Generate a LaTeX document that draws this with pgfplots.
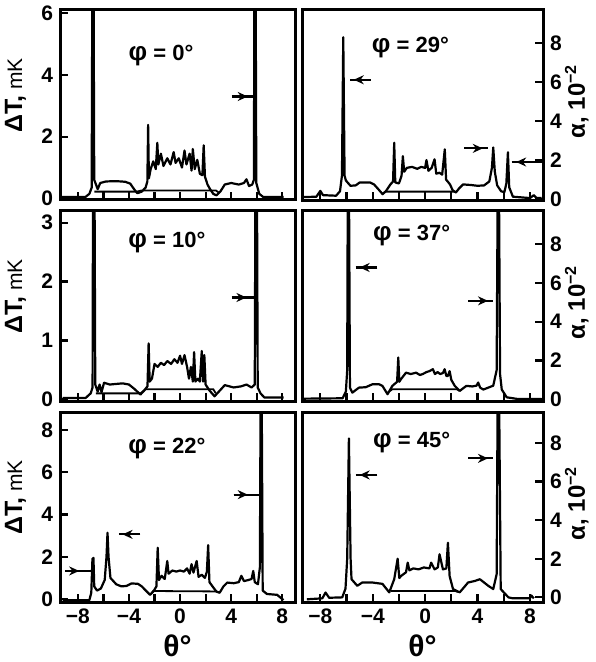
\documentclass[border=0pt]{standalone}
\usepackage{pgfplots}
\pgfplotsset{compat=1.18}
\usepackage{fontspec}
\setmainfont{Liberation Sans}
\usetikzlibrary{arrows.meta}

% arrow with head inside the line: right-pointing {x1}{xhead}{x2}{y}
\newcommand{\rarr}[4]{\draw[line width=1.1pt] (axis cs:#1,#4) -- (axis cs:#3,#4);
  \draw[line width=1.1pt,-{Stealth[length=5pt,width=4.5pt]}] (axis cs:#1,#4) -- (axis cs:#2,#4);}
\newcommand{\larr}[4]{\draw[line width=1.1pt] (axis cs:#1,#4) -- (axis cs:#3,#4);
  \draw[line width=1.1pt,-{Stealth[length=5pt,width=4.5pt]}] (axis cs:#3,#4) -- (axis cs:#2,#4);}

\tikzset{ttl/.style={font=\bfseries\fontsize{11}{12}\selectfont, anchor=center}}
\newcommand{\phig}{{\fontsize{13}{13}\selectfont φ}}

\pgfplotsset{
  panel/.style={scale only axis, height=95pt, xmin=-9.4, xmax=9,
    axis line style={line width=1.5pt},
    xtick={-8,-4,0,4,8}, minor xtick={-6,-2,2,6}, xticklabels={},
    xtick pos=left,
    tick style={black, line width=1.1pt}, major tick length=4pt, minor tick length=4pt,
    tick label style={font=\bfseries\fontsize{10.5}{12}\selectfont},
    /pgf/number format/assume math mode=true},
  lp/.style={panel, width=117.5pt, ytick pos=left,
    ylabel={{\bfseries\fontsize{12.5}{14}\selectfont ΔT,} {\fontsize{10.5}{12}\selectfont mK}},
    ylabel style={at={(axis description cs:-0.19,0.55)}, anchor=center}},
  rp/.style={panel, width=120.5pt, ytick pos=right, yticklabel pos=right,
    ytick={0,2,4,6,8}, ymax=9.7,
    ylabel={\bfseries\fontsize{12}{13}\selectfont α, 10\textsuperscript{−2}},
    ylabel style={at={(axis description cs:1.14,0.52)}, anchor=center}},
  bot/.style={xticklabels={−8,−4,0,4,8},
    xlabel={\bfseries\fontsize{15}{16}\selectfont θ°},
    xlabel style={at={(axis description cs:0.5,0)}, anchor=center, yshift=-22pt}},
  curve/.style={black, line width=1.1pt, line join=round, no marks},
  low/.style={black, line width=0.9pt, no marks},
}

\begin{document}
\begin{tikzpicture}
\path[use as bounding box] (0,0) rectangle (297.5pt,-331pt);

% ---- phi = 0
\begin{axis}[lp, at={(30pt,-5pt)}, anchor=north west, ymin=-0.05, ymax=6.1, ytick={0,2,4,6}]
\addplot[curve] coordinates {(-9.3,0.05) (-7.4,0.05) (-7.1,0.15) (-6.92,0.35) (-6.86,8) (-6.78,8) (-6.72,0.6) (-6.6,0.47) (-6.45,0.3) (-6.25,0.5) (-5.8,0.55) (-5.0,0.56) (-4.3,0.54) (-3.9,0.48) (-3.6,0.3) (-3.35,0.17) (-3.0,0.22) (-2.7,0.35) (-2.56,0.55) (-2.5,2.38) (-2.44,0.65) (-2.3,0.95) (-2.1,1.2) (-1.9,0.95) (-1.78,1.8) (-1.7,1.1) (-1.5,1.45) (-1.3,1.05) (-1.0,1.3) (-0.75,1.1) (-0.5,1.5) (-0.35,1.15) (-0.1,1.3) (0.15,1.0) (0.35,1.55) (0.5,1.1) (0.75,1.45) (0.9,0.9) (1.0,1.6) (1.15,0.95) (1.35,1.25) (1.55,0.8) (1.75,0.75) (1.85,1.72) (1.95,0.7) (2.15,0.45) (2.35,0.3) (2.6,0.15) (2.85,0.1) (3.15,0.22) (3.5,0.45) (4.0,0.5) (4.6,0.45) (5.0,0.5) (5.2,0.62) (5.4,0.4) (5.65,0.45) (5.78,0.6) (5.83,8) (5.91,8) (5.97,0.5) (6.2,0.15) (6.5,0.05) (8.1,0.05)};
\addplot[low] coordinates {(-6.7,0.22) (-3.4,0.22) (-3.0,0.26) (2.8,0.26) (3.0,0.2)};
\rarr{4.05}{5.3}{5.83}{3.3}
\node[ttl] at (rel axis cs:0.43,0.76) {\phig\ = 0°};
\end{axis}

% ---- phi = 29
\begin{axis}[rp, at={(151pt,-5pt)}, anchor=north west, ymin=-0.05]
\addplot[curve] coordinates {(-9.3,0.1) (-8.3,0.12) (-8.0,0.42) (-7.8,0.2) (-6.8,0.17) (-6.5,0.4) (-6.35,1.2) (-6.25,8.3) (-6.15,1.2) (-6.05,0.95) (-5.7,0.68) (-5.3,0.7) (-5.0,0.85) (-4.2,0.85) (-3.9,0.75) (-3.5,0.45) (-3.25,0.25) (-3.0,0.4) (-2.65,0.75) (-2.45,0.9) (-2.36,2.89) (-2.28,0.85) (-2.0,0.8) (-1.8,1.2) (-1.7,2.2) (-1.6,1.4) (-1.4,1.6) (-1.0,1.65) (-0.6,1.55) (-0.3,1.65) (0.0,1.6) (0.1,2.0) (0.25,1.45) (0.5,1.6) (0.72,2.04) (0.85,1.3) (1.1,1.35) (1.3,1.25) (1.5,2.55) (1.6,1.0) (1.9,0.75) (2.1,0.45) (2.35,0.34) (2.6,0.55) (2.9,0.75) (3.5,0.72) (4.0,0.68) (4.5,0.7) (4.9,0.9) (5.1,1.6) (5.2,2.65) (5.32,1.4) (5.5,0.7) (5.8,0.4) (6.05,0.35) (6.2,0.8) (6.32,2.4) (6.42,0.6) (6.7,0.12) (8.0,0.05) (8.3,0.2) (8.5,0.05) (8.9,0.05)};
\addplot[low] coordinates {(-3.25,0.28) (-3.0,0.38) (2.2,0.38) (2.4,0.34)};
\larr{-5.7}{-5.45}{-4.15}{6.12}
\rarr{3.0}{4.4}{4.8}{2.6}
\larr{6.6}{6.95}{9.0}{1.9}
\node[ttl] at (rel axis cs:0.45,0.8) {\phig\ = 29°};
\end{axis}

% ---- phi = 10
\begin{axis}[lp, at={(30pt,-105.5pt)}, anchor=north west, ymin=-0.03, ymax=3.2, ytick={0,1,2,3}]
\addplot[curve] coordinates {(-9.2,0.02) (-7.4,0.02) (-7.0,0.1) (-6.85,0.2) (-6.8,5) (-6.72,5) (-6.64,0.25) (-6.45,0.13) (-6.3,0.25) (-6.15,0.12) (-5.95,0.28) (-5.5,0.25) (-4.5,0.27) (-4.0,0.25) (-3.6,0.18) (-3.1,0.08) (-2.8,0.15) (-2.55,0.22) (-2.46,0.95) (-2.38,0.3) (-2.2,0.35) (-2.0,0.6) (-1.75,0.55) (-1.5,0.62) (-1.25,0.58) (-1.0,0.65) (-0.7,0.6) (-0.45,0.68) (-0.2,0.62) (0.0,0.74) (0.15,0.6) (0.35,0.75) (0.55,0.55) (0.7,0.35) (0.85,0.55) (1.0,0.3) (1.1,0.8) (1.2,0.3) (1.4,0.35) (1.55,0.3) (1.7,0.82) (1.8,0.3) (1.9,0.75) (2.0,0.25) (2.3,0.15) (2.7,0.05) (3.0,0.12) (3.5,0.24) (4.2,0.2) (4.8,0.22) (5.2,0.25) (5.6,0.2) (5.85,0.25) (5.92,5) (6.0,5) (6.08,0.2) (6.3,0.1) (6.6,0.03) (8.1,0.03)};
\addplot[low] coordinates {(-6.6,0.1) (-3.1,0.1) (-2.7,0.17) (2.6,0.17) (2.8,0.1)};
\rarr{4.05}{5.2}{5.92}{1.73}
\node[ttl] at (rel axis cs:0.455,0.835) {\phig\ = 10°};
\end{axis}

% ---- phi = 37
\begin{axis}[rp, at={(151pt,-105.5pt)}, anchor=north west, ymin=-0.09]
\addplot[curve] coordinates {(-9.3,0.03) (-6.3,0.05) (-6.05,0.4) (-5.95,1.5) (-5.9,12) (-5.82,12) (-5.74,0.6) (-5.56,0.34) (-5.05,0.6) (-4.54,0.62) (-4.03,0.77) (-3.5,0.77) (-3.26,0.69) (-2.87,0.26) (-2.5,0.69) (-2.14,0.9) (-2.05,2.15) (-1.97,0.9) (-1.85,1.03) (-1.46,1.37) (-1.1,1.3) (-0.69,1.37) (-0.4,1.25) (-0.18,1.3) (0.1,1.4) (0.33,1.45) (0.59,1.55) (0.75,1.3) (0.95,1.4) (1.15,1.3) (1.36,1.35) (1.49,1.55) (1.62,1.2) (1.74,1.2) (1.87,1.45) (2.0,1.0) (2.26,0.69) (2.64,0.43) (3.15,0.69) (3.6,0.66) (3.92,0.7) (4.05,0.86) (4.2,0.6) (4.44,0.5) (4.9,0.62) (5.2,0.7) (5.46,1.5) (5.55,12) (5.63,12) (5.72,1.3) (5.85,0.5) (6.23,0.1) (7.0,0.02) (8.9,0.02)};
\addplot[low] coordinates {(-2.74,0.4) (-2.5,0.52) (2.4,0.52) (2.64,0.43)};
\larr{-5.3}{-5.0}{-3.64}{6.79}
\rarr{3.28}{4.8}{5.2}{5.07}
\node[ttl] at (rel axis cs:0.455,0.87) {\phig\ = 37°};
\end{axis}

% ---- phi = 22
\begin{axis}[lp, bot, at={(30pt,-206pt)}, anchor=north west, ymin=-0.14, ymax=8.85, ytick={0,2,4,6,8}]
\addplot[curve] coordinates {(-9.2,-0.05) (-7.1,-0.05) (-6.95,0.3) (-6.86,1.9) (-6.78,1.95) (-6.72,0.6) (-6.5,0.4) (-6.2,0.5) (-5.9,0.9) (-5.76,2.0) (-5.68,3.14) (-5.6,2.0) (-5.45,1.0) (-5.0,0.7) (-4.6,0.6) (-4.2,0.62) (-3.8,0.74) (-3.3,0.72) (-3.0,0.6) (-2.6,0.35) (-2.35,0.2) (-2.1,0.35) (-1.85,0.6) (-1.75,2.43) (-1.65,0.9) (-1.45,1.1) (-1.2,0.95) (-1.0,1.8) (-0.9,1.2) (-0.6,1.35) (-0.3,1.3) (0.0,1.35) (0.3,1.3) (0.55,1.45) (0.75,1.2) (0.9,1.65) (1.05,1.25) (1.3,1.8) (1.45,1.05) (1.7,1.15) (1.95,1.0) (2.1,1.3) (2.2,2.55) (2.3,0.8) (2.6,0.55) (2.85,0.35) (3.1,0.3) (3.4,0.6) (3.7,0.78) (4.2,0.75) (4.6,0.8) (4.8,1.1) (5.0,0.85) (5.35,0.9) (5.6,0.95) (5.73,1.33) (5.85,0.8) (6.1,0.7) (6.25,1.5) (6.31,10) (6.39,10) (6.47,0.4) (6.8,0.24) (7.6,0.2) (7.9,0.05) (8.1,-0.05)};
\addplot[low] coordinates {(-2.35,0.2) (-2.1,0.38) (2.85,0.36) (3.1,0.3)};
\rarr{-9.0}{-7.9}{-6.86}{1.33}
\larr{-4.8}{-4.5}{-3.1}{3.06}
\rarr{4.2}{5.3}{6.3}{4.94}
\node[ttl] at (rel axis cs:0.455,0.81) {\phig\ = 22°};
\end{axis}

% ---- phi = 45
\begin{axis}[rp, bot, at={(151pt,-206pt)}, anchor=north west, ymin=-0.24, ymax=9.6]
\addplot[curve] coordinates {(-9.03,-0.1) (-7.85,-0.05) (-7.6,0.25) (-7.33,-0.02) (-6.33,0.0) (-6.08,0.45) (-5.95,2.0) (-5.82,8.23) (-5.69,2.0) (-5.62,0.94) (-5.18,0.6) (-4.8,0.77) (-4.03,0.77) (-3.26,0.7) (-2.74,0.26) (-2.36,0.94) (-2.1,2.0) (-1.97,1.0) (-1.85,1.1) (-1.46,1.3) (-1.33,1.8) (-1.2,1.4) (-0.9,1.5) (-0.5,1.45) (-0.1,1.55) (0.33,1.5) (0.46,1.8) (0.72,1.45) (0.97,1.55) (1.1,2.23) (1.36,1.45) (1.62,1.5) (1.74,2.83) (1.87,1.1) (2.13,0.43) (2.64,0.26) (3.28,0.77) (3.8,0.85) (4.18,0.94) (4.82,0.6) (5.2,0.43) (5.46,1.2) (5.55,12) (5.63,12) (5.77,0.43) (6.36,0.0) (6.7,-0.05) (8.0,-0.05) (8.1,0.1) (8.3,-0.05)};
\addplot[low] coordinates {(-2.6,0.33) (2.3,0.33) (2.5,0.28)};
\larr{-5.3}{-5.0}{-3.64}{6.34}
\rarr{3.28}{4.8}{5.2}{7.2}
\node[ttl] at (rel axis cs:0.455,0.84) {\phig\ = 45°};
\end{axis}
\end{tikzpicture}
\end{document}
